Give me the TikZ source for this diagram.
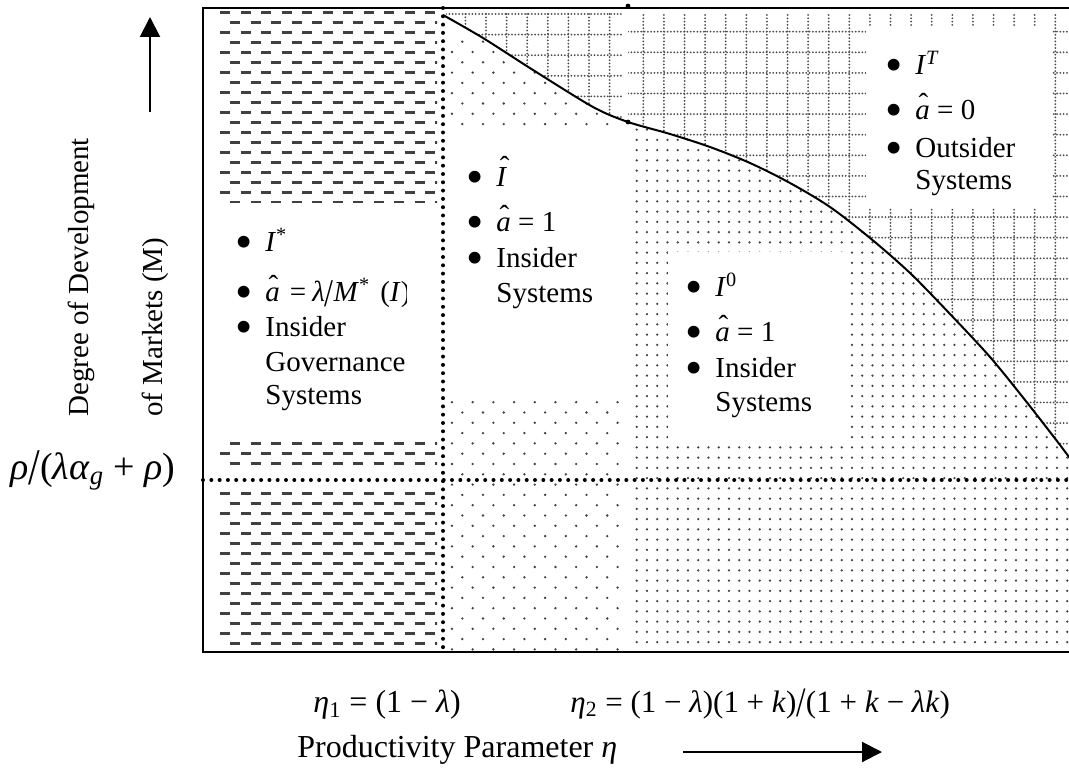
\documentclass[tikz,border=0pt]{standalone}
\usepackage{fontspec}
\setmainfont{Liberation Serif}
\usepackage{graphicx}
\usetikzlibrary{arrows.meta}
\definecolor{patc}{gray}{0.25}
\definecolor{gridc}{gray}{0.3}
\newcommand\ahat{\textit{a}\llap{\raisebox{0.22em}{ˆ}\hspace{0.06em}}}
\newcommand\Ihat{\textit{I}\llap{\raisebox{0.35em}{ˆ}\hspace{-0.08em}}}
\newcommand\bigsl{\raisebox{-0.15em}{\scalebox{1.1}[1.35]{/}}}
\newcommand\bul{\llap{\raisebox{-0.21em}{\scalebox{1.7}{\textbullet}}\hspace{6.5pt}}}
\begin{document}
\begin{tikzpicture}[x=0.5pt,y=-0.5pt,
  every node/.style={inner sep=0pt, font=\fontsize{14.5}{17}\selectfont},
  txt/.style={anchor=base west},
  big/.style={font=\fontsize{16}{19}\selectfont},
  dashrow/.style={line width=1.5pt, dash pattern=on 5pt off 5.25pt, draw=patc},
  gridline/.style={line width=1pt, dash pattern=on 0pt off 1.65pt, line cap=round, draw=gridc},
  dotline/.style={line width=2pt, dash pattern=on 0pt off 4.15pt, line cap=round},
  frame/.style={line width=1.25pt},
  axisarrow/.style={line width=1pt, -{Triangle[length=10pt,width=10pt]}},
]
\useasboundingbox (0,0) rectangle (1069,769);
\fill[white] (0,0) rectangle (1069,769);

% left dashes
\begin{scope}
\clip (205,9) rectangle (437,650);
\foreach \k in {0,...,45,48,49,...,63}{
  \pgfmathsetmacro\yy{13+10*\k}
  \pgfmathsetmacro\xx{220+10*mod(\k,2)}
  \draw[dashrow] (\xx,\yy) -- (440,\yy);
}
\end{scope}

% middle sparse dots (below curve)
\begin{scope}
\clip (446,0) rectangle (626,651);
\clip plot[smooth,tension=0.5] coordinates {(443,15) (483,38) (533,70) (593,107) (628,122) (670,134) (710,147) (750,163) (790,183) (830,207) (870,238) (910,273) (950,314) (990,357) (1025,400) (1060,445) (1080,472)} -- (1080,652) -- (443,652) -- cycle;
\foreach \j in {0,...,59}{
  \foreach \i in {-1,...,8}{
    \fill[patc] ({462.3+20.7*\i+10.35*mod(\j,2)},{41.7+10.3*\j}) circle (1.3);
  }
}
\end{scope}

% right dense dots (below curve)
\begin{scope}
\clip (631,0) rectangle (1080,651);
\clip plot[smooth,tension=0.5] coordinates {(443,15) (483,38) (533,70) (593,107) (628,122) (670,134) (710,147) (750,163) (790,183) (830,207) (870,238) (910,273) (950,314) (990,357) (1025,400) (1060,445) (1080,472)} -- (1080,652) -- (443,652) -- cycle;
\foreach \j in {-16,...,35}{
  \foreach \i in {0,...,42}{
    \fill[patc] ({636.7+10.25*\i},{283.3+10.25*\j}) circle (1.25);
  }
}
\end{scope}

% dotted grids (above curve)
\begin{scope}
\clip (443,9) -- plot[smooth,tension=0.5] coordinates {(443,15) (483,38) (533,70) (593,107) (628,122) (670,134) (710,147) (750,163) (790,183) (830,207) (870,238) (910,273) (950,314) (990,357) (1025,400) (1060,445) (1080,472)} -- (1080,9) -- cycle;
 \begin{scope}
 \clip (446,9) rectangle (624,300);
 \foreach \i in {-2,...,6} \draw[gridline] ({486+20.6*\i},14) -- ({486+20.6*\i},200);
 \foreach \j in {0,...,6} \draw[gridline] (446,{14+20.6*\j}) -- (624,{14+20.6*\j});
 \end{scope}
 \begin{scope}
 \clip (628,9) rectangle (1080,651);
 \foreach \i in {0,...,21} \draw[gridline] ({643.3+20.6*\i},15) -- ({643.3+20.6*\i},480);
 \foreach \j in {0,...,21} \draw[gridline] (628,{31.7+20.6*\j}) -- (1080,{31.7+20.6*\j});
 \end{scope}
\end{scope}

% white text boxes
\fill[white] (204,203) rectangle (443,438);
\fill[white] (443,132) rectangle (628,395);
\fill[white] (668,252) rectangle (845,444);
\fill[white] (866,27) rectangle (1052,208);

% boundary curve
\draw[line width=1pt] plot[smooth,tension=0.5] coordinates {(443,15) (483,38) (533,70) (593,107) (628,122) (670,134) (710,147) (750,163) (790,183) (830,207) (870,238) (910,273) (950,314) (990,357) (1025,400) (1060,445) (1080,472)};
\fill (628,122) circle (2.4);
\fill (628,6) circle (2.4);

% dotted lines and frame
\draw[dotline] (443,8) -- (443,651);
\draw[dotline] (203,480) -- (1069,480);
\draw[frame] (1075,8) -- (203,8) -- (203,652) -- (1075,652);

% left box text
\node[txt] (l1) at (265,252) {\bul\textit{I}\textsuperscript{*}};
\begin{scope}
\clip (204,203) rectangle (406,438);
\node[txt] (l2) at (265,302) {\bul\ahat\hspace{5pt}=\hspace{3pt}\textit{λ}\bigsl\textit{M}\textsuperscript{*}\hspace{5pt}(\textit{I})};
\end{scope}
\node[txt] (l3) at (265,337) {\bul Insider};
\node[txt] (l4) at (265,372) {Governance};
\node[txt] (l5) at (265,405) {Systems};

% middle box text
\node[txt] (m1) at (496,187) {\bul\Ihat};
\node[txt] (m2) at (496,232) {\bul\ahat\ = 1};
\node[txt] (m3) at (496,268) {\bul Insider};
\node[txt] (m4) at (496,303) {Systems};

% I0 box text
\node[txt] (r1) at (715,297) {\bul\textit{I}\textsuperscript{0}};
\node[txt] (r2) at (715,342) {\bul\ahat\ = 1};
\node[txt] (r3) at (715,378) {\bul Insider};
\node[txt] (r4) at (715,412) {Systems};

% IT box text
\node[txt] (t1) at (915,75) {\bul\textit{I}\textsuperscript{\textit{T}}};
\node[txt] (t2) at (915,120) {\bul\ahat\ = 0};
\node[txt] (t3) at (915,158) {\bul Outsider};
\node[txt] (t4) at (915,190) {Systems};

% axis labels
\node[txt, font=\fontsize{19}{22}\selectfont] (rho) at (10,479) {\textit{ρ}\bigsl(\textit{λα}\textsubscript{\textit{g}} + \textit{ρ})};
\node[txt, big] (eta1) at (313,712) {\textit{η}\textsubscript{1} = (1 − \textit{λ})};
\node[txt, font=\fontsize{15.5}{18}\selectfont] (eta2) at (570,712) {\textit{η}\textsubscript{2} = (1 − \textit{λ})(1 + \textit{k})\bigsl(1 + \textit{k} − \textit{λk})};
\node[txt, big] (xlab) at (297,757) {Productivity Parameter \textit{η}};
\node[txt, rotate=90] (ylab1) at (88,417) {Degree of Development};
\node[txt, rotate=90] (ylab2) at (162,417) {of Markets (M)};

\coordinate (va0) at (150,112);
\coordinate (va1) at (150,17);
\draw[axisarrow] (va0) -- (va1);
\coordinate (ha0) at (683,752);
\coordinate (ha1) at (882,752);
\draw[axisarrow] (ha0) -- (ha1);
\end{tikzpicture}
\end{document}
